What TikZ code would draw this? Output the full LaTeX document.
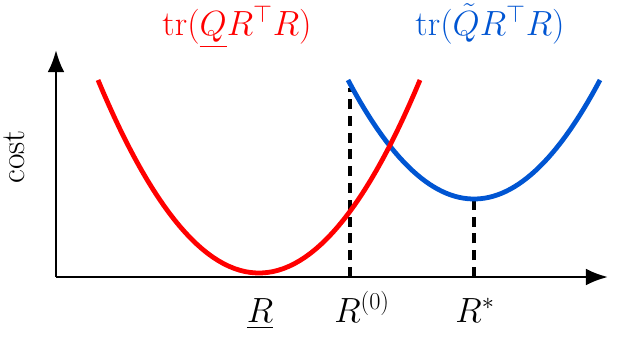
\documentclass[tikz,border=0pt]{standalone}
\usepackage{amsmath, amssymb}
\usepackage{xcolor}
\usepackage{tikz}
\usetikzlibrary{arrows.meta, positioning}
\definecolor{costblue}{RGB}{0,85,210}
\tikzstyle{axis}  = [line width=1.9pt, -{Latex[length=5.5mm, width=4.2mm]}]
\tikzstyle{curve} = [line width=3.4pt]
\tikzstyle{guide} = [line width=2.2pt, dash pattern=on 2.5mm off 1.7mm]
\tikzstyle{lbl}   = [font=\fontsize{24}{28}\selectfont, inner sep=0pt]
\tikzstyle{tick}  = [font=\fontsize{27}{32}\selectfont, inner sep=0pt, anchor=base]

\begin{document}
\begin{tikzpicture}[x=0.025cm, y=-0.025cm]

    \useasboundingbox (0,0) rectangle (640,357);

    % ── Axes ────────────────────────────────────────────────────────────────
    \coordinate (origin) at (56,277);
    \coordinate (ytip)   at (56,50);
    \coordinate (xtip)   at (608,277);
    \draw [axis] (origin) -- (ytip);
    \draw [axis] (origin) -- (xtip);
    \node (cost) [lbl, rotate=90, anchor=base] at (25,157) {cost};

    % ── Guide lines ─────────────────────────────────────────────────────────
    \coordinate (init)    at (350,277);
    \coordinate (inittop) at (350,88);
    \coordinate (opt)     at (474,277);
    \coordinate (opttop)  at (474,199);
    \draw [guide] (init) -- (inittop);
    \draw [guide] (opt)  -- (opttop);

    % ── Cost curves ─────────────────────────────────────────────────────────
    \draw [curve, costblue] plot[domain=348:600, samples=60]
        (\x, {199-119*((\x-474)/126)^2});
    \draw [curve, red] plot[domain=98:420, samples=60]
        (\x, {273-193*((\x-259)/161)^2});

    % ── Labels ──────────────────────────────────────────────────────────────
    \node (lowq)  [lbl, red,      anchor=base] at (237,35) {$\mathrm{tr}(\underline{Q}R^{\top}R)$};
    \node (tilq)  [lbl, costblue, anchor=base] at (490,35) {$\mathrm{tr}(\tilde{Q}R^{\top}R)$};
    \node (rlow)  [tick] at (260,322) {$\underline{R}$};
    \node (rinit) [tick] at (362,322) {$R^{(0)}$};
    \node (ropt)  [tick] at (475,322) {$R^{*}$};

\end{tikzpicture}
\end{document}
